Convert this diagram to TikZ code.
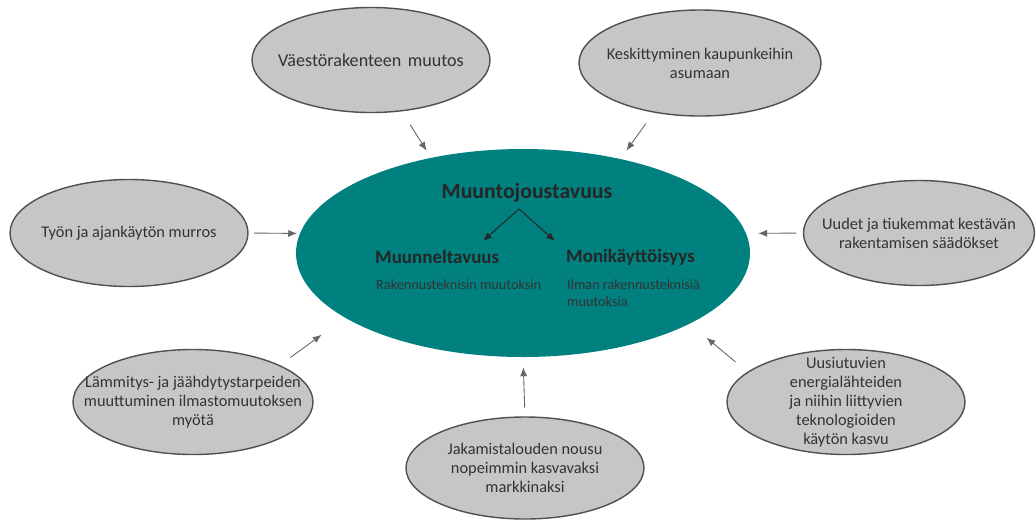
\documentclass[tikz,border=0pt]{standalone}
\usepackage{fontspec}
\setmainfont{Carlito}
\usetikzlibrary{arrows.meta,positioning,shapes.geometric}

\definecolor{tealfill}{HTML}{00807F}
\definecolor{greyfill}{HTML}{C6C6C6}
\definecolor{greyline}{HTML}{505050}

\tikzset{
  driver/.style={ellipse,draw=greyline,fill=greyfill,thick,inner sep=0pt,
    minimum width=4.76cm,minimum height=2.1cm},
  drivertext/.style={align=center,font=\fontsize{9.3}{10.9}\selectfont,text=black!80},
  pull/.style={-{Latex[length=5pt,width=4pt]},draw=black!60,line width=0.5pt},
  split/.style={-{Latex[length=5pt,width=4pt]},draw=black!85,line width=0.6pt}
}

\begin{document}
\begin{tikzpicture}
        \useasboundingbox (0,0) rectangle (20.72,-10.38);

        % central concept
        \node[ellipse,fill=tealfill,minimum width=9.08cm,minimum height=4.16cm] (core) at (10.46,-5.06) {};
        \node[font=\bfseries\fontsize{12.4}{15}\selectfont,text=black!85] (title) at (10.54,-3.86) {Muuntojoustavuus};
        \node[font=\bfseries\fontsize{10.8}{12}\selectfont,text=black!85,anchor=west] (muun) at (7.38,-5.14) {Muunneltavuus};
        \node[font=\fontsize{8.1}{10}\selectfont,text=black!80,anchor=north west] (muundesc) at (7.40,-5.46) {Rakennusteknisin muutoksin};
        \node[font=\bfseries\fontsize{10.8}{12}\selectfont,text=black!85,anchor=west] (moni) at (11.20,-5.14) {Monikäyttöisyys};
        \node[font=\fontsize{8.1}{10}\selectfont,text=black!80,anchor=north west,align=left] (monidesc) at (11.22,-5.46) {Ilman rakennusteknisiä\\muutoksia};

        \coordinate (fork) at (10.38,-4.18);
        \coordinate (forkl) at (9.66,-4.82);
        \coordinate (forkr) at (11.10,-4.82);
        \draw[split] (fork) -- (forkl);
        \draw[split] (fork) -- (forkr);

        % drivers
        \node[driver,label={[drivertext,font=\fontsize{10.3}{12}\selectfont]center:Väestörakenteen\hspace{0.35em}muutos}] (vaesto) at (7.42,-1.20) {};
        \node[driver,minimum width=4.84cm,minimum height=2.12cm,label={[drivertext]center:{Keskittyminen kaupunkeihin\\asumaan}}] (kesk) at (14.00,-1.26) {};
        \node[driver,minimum height=2.14cm,label={[drivertext]center:Työn ja ajankäytön murros}] (tyo) at (2.58,-4.66) {};
        \node[driver,minimum width=4.62cm,label={[drivertext]center:{Uudet ja tiukemmat kestävän\\rakentamisen säädökset}}] (uudet) at (18.38,-4.66) {};
        \node[driver,minimum width=4.8cm,label={[drivertext]center:{Lämmitys- ja jäähdytystarpeiden\\muuttuminen ilmastomuutoksen\\myötä}}] (lamm) at (3.86,-8.04) {};
        \node[driver,minimum height=2.04cm,label={[drivertext]center:{Jakamistalouden nousu\\nopeimmin kasvavaksi\\markkinaksi}}] (jako) at (10.50,-9.36) {};
        \node[driver,label={[drivertext]center:{Uusiutuvien\\energialähteiden\\ja niihin liittyvien\\teknologioiden\\käytön kasvu}}] (uusi) at (16.92,-8.04) {};

        % influences
        \draw[pull,shorten <=8.9pt,shorten >=4.6pt] (vaesto.-59) -- (core.134);
        \draw[pull,shorten <=7.7pt,shorten >=5.7pt] (kesk.227) -- (core.44);
        \draw[pull,shorten <=3pt,shorten >=1.5pt] (tyo.east) -- (core.175);
        \draw[pull,shorten <=3.7pt,shorten >=6.8pt] (uudet.west) -- (core.5);
        \draw[pull,shorten <=7.4pt,shorten >=16.4pt] (lamm.23) -- (core.200);
        \draw[pull,shorten <=5pt,shorten >=5.7pt] (jako.north) -- (core.south);
        \draw[pull,shorten <=8.8pt,shorten >=12.3pt] (uusi.163) -- (core.-23);

      \end{tikzpicture}
\end{document}
